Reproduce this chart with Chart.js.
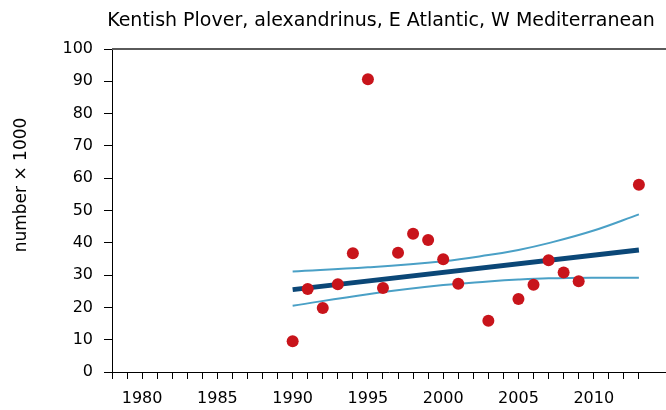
<!DOCTYPE html>
<html>
<head>
<meta charset="utf-8">
<script src="https://cdn.jsdelivr.net/npm/chart.js@4"></script>
<style>
  html, body { margin: 0; padding: 0; background: #fff; }
  #wrap { width: 666px; height: 410px; }
</style>
</head>
<body>
<div id="wrap"><canvas id="chart" width="666" height="410"></canvas></div>
<script>
// counts (x 1000)
const countYears = [1990, 1991, 1992, 1993, 1994, 1995, 1996, 1997, 1998, 1999, 2000, 2001, 2003, 2005, 2006, 2007, 2008, 2009, 2013];
const counts = [9.5, 25.7, 19.8, 27.2, 36.8, 90.6, 26.0, 36.9, 42.8, 40.9, 34.9, 27.3, 15.9, 22.6, 27.0, 34.6, 30.8, 28.1, 58.0];

// fitted trend and its confidence band
const trendYears = [1990, 2013];
const trend = [25.5, 37.8];
const bandYears = [1990, 1995, 2000, 2003, 2005, 2007, 2010, 2013];
const upper = [31.1, 32.4, 34.3, 36.2, 37.8, 39.9, 43.8, 48.8];
const lower = [20.5, 24.1, 26.9, 28.0, 28.6, 29.0, 29.2, 29.2];

const yTicks = [0, 10, 20, 30, 40, 50, 60, 70, 80, 90, 100];
const xLabelYears = [1980, 1985, 1990, 1995, 2000, 2005, 2010];

const titleText = 'Kentish Plover, alexandrinus, E Atlantic, W Mediterranean';
const yTitleText = 'number \u00d7 1000';

const FONT = 'DejaVu Sans';

const toXY = (xs, ys) => xs.map((x, i) => ({ x: x, y: ys[i] }));

// title, y-axis title and the top frame line
const decorations = {
  id: 'decorations',
  afterDraw(chart) {
    const ctx = chart.ctx;
    const area = chart.chartArea;
    ctx.save();
    ctx.strokeStyle = '#5a5a5a';
    ctx.lineWidth = 2;
    ctx.beginPath();
    ctx.moveTo(area.left, area.top);
    ctx.lineTo(area.right, area.top);
    ctx.stroke();

    ctx.fillStyle = '#000';
    ctx.textAlign = 'center';
    ctx.textBaseline = 'middle';
    ctx.font = '19px "' + FONT + '"';
    ctx.fillText(titleText, 381, 21);

    ctx.font = '17px "' + FONT + '"';
    ctx.translate(22, 185);
    ctx.rotate(-Math.PI / 2);
    ctx.fillText(yTitleText, 0, 0);
    ctx.restore();
  }
};

new Chart(document.getElementById('chart'), {
  type: 'scatter',
  data: {
    datasets: [
      {
        label: 'counts',
        data: toXY(countYears, counts),
        backgroundColor: '#c8141b',
        borderWidth: 0,
        pointRadius: 6,
        pointHoverRadius: 6
      },
      {
        label: 'trend',
        data: toXY(trendYears, trend),
        showLine: true,
        borderColor: '#0b4777',
        borderWidth: 5,
        pointRadius: 0
      },
      {
        label: 'upper',
        data: toXY(bandYears, upper),
        showLine: true,
        tension: 0.4,
        borderColor: '#4aa0c6',
        borderWidth: 2,
        pointRadius: 0
      },
      {
        label: 'lower',
        data: toXY(bandYears, lower),
        showLine: true,
        tension: 0.4,
        borderColor: '#4aa0c6',
        borderWidth: 2,
        pointRadius: 0
      }
    ]
  },
  options: {
    responsive: false,
    animation: false,
    layout: { autoPadding: false, padding: { top: 49, left: 0, right: 0, bottom: 0 } },
    plugins: {
      legend: { display: false },
      tooltip: { enabled: false }
    },
    scales: {
      x: {
        type: 'linear',
        min: 1978,
        max: 2014.8,
        afterFit: s => { s.height = 38; s.paddingLeft = 0; s.paddingRight = 0; },
        afterBuildTicks: s => { s.ticks = s.ticks.filter(t => Number.isInteger(t.value)); },
        border: { color: '#000', width: 1 },
        grid: { drawOnChartArea: false, tickLength: 7, color: '#000' },
        ticks: {
          stepSize: 1,
          autoSkip: false,
          maxRotation: 0,
          padding: 10,
          color: '#000',
          font: { family: FONT, size: 16 },
          callback: v => xLabelYears.includes(v) ? String(v) : ''
        }
      },
      y: {
        min: 0,
        max: 100,
        afterFit: s => { s.width = 112; },
        afterBuildTicks: s => { s.ticks = yTicks.map(v => ({ value: v })); },
        border: { color: '#000', width: 1 },
        grid: { drawOnChartArea: false, tickLength: 8, color: '#000' },
        ticks: {
          padding: 11,
          color: '#000',
          font: { family: FONT, size: 16 }
        }
      }
    }
  },
  plugins: [decorations]
});
</script>
</body>
</html>
